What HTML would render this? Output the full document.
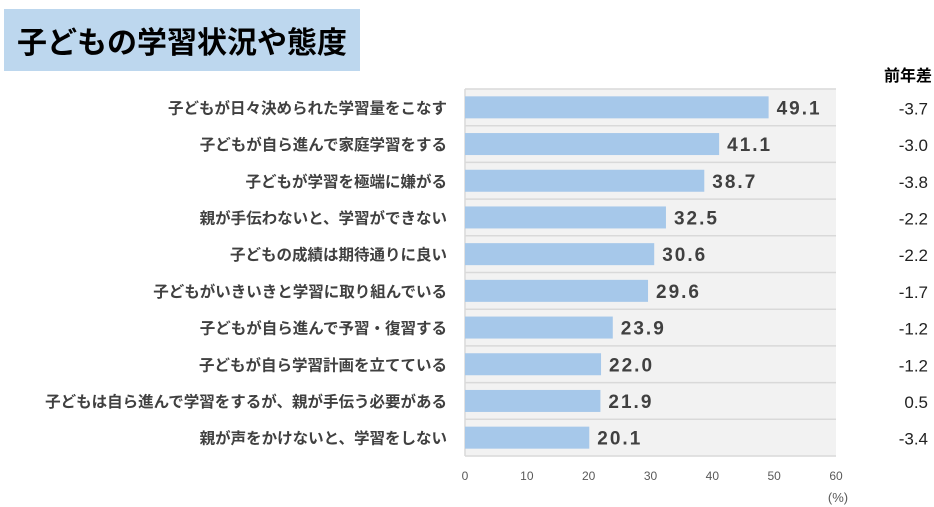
<!DOCTYPE html>
<html><head><meta charset="utf-8"><style>
body{margin:0;background:#fff;width:934px;height:507px;overflow:hidden;font-family:"Liberation Sans","Noto Sans CJK JP",sans-serif}
</style></head><body>
<div style="position:absolute;left:4px;top:9px;width:356px;height:62px;background:#bdd7ee"></div>
<div style="position:absolute;left:17px;top:18px;font-size:30px;font-weight:bold;color:#000;font-family:'Noto Sans CJK JP',sans-serif;line-height:44px">子どもの学習状況や態度</div>
<svg id="c" width="934" height="507" style="position:absolute;left:0;top:0"></svg>
<script>
const categories=["子どもが日々決められた学習量をこなす","子どもが自ら進んで家庭学習をする","子どもが学習を極端に嫌がる","親が手伝わないと、学習ができない","子どもの成績は期待通りに良い","子どもがいきいきと学習に取り組んでいる","子どもが自ら進んで予習・復習する","子どもが自ら学習計画を立てている","子どもは自ら進んで学習をするが、親が手伝う必要がある","親が声をかけないと、学習をしない"];
const values=[49.1,41.1,38.7,32.5,30.6,29.6,23.9,22.0,21.9,20.1];
const diffs=["-3.7","-3.0","-3.8","-2.2","-2.2","-1.7","-1.2","-1.2","0.5","-3.4"];
const ticks=[0,10,20,30,40,50,60];
const NS="http://www.w3.org/2000/svg";
const svg=document.getElementById('c');
const x0=465,x1=836,plotTop=89,plotBot=456,xmax=60;
const rh=(plotBot-plotTop)/categories.length;
const xs=v=>x0+(v/xmax)*(x1-x0);
const ys=i=>plotTop+rh*i;
function mk(t,a,txt){const e=document.createElementNS(NS,t);for(const k in a)e.setAttribute(k,a[k]);if(txt!=null)e.textContent=txt;svg.appendChild(e);return e;}
let bg=mk('rect',{x:x0,y:plotTop,width:x1-x0,height:plotBot-plotTop,fill:'#f2f2f2'});


for(let i=0;i<=categories.length;i++){let g=mk('line',{x1:x0,x2:x1,y1:ys(i),y2:ys(i),stroke:'#d9d9d9','stroke-width':1.5});

}
let ax=mk('line',{x1:x0,x2:x0,y1:plotTop,y2:plotBot,stroke:'#d9d9d9','stroke-width':1.5});


categories.forEach((c,i)=>{
 const cy=ys(i)+rh/2;
 let b=mk('rect',{x:x0,y:cy-11,width:xs(values[i])-x0,height:22,fill:'#a6c8ea'});
 
 
 let l=mk('text',{x:447,y:cy+6,'text-anchor':'end','font-size':15.5,'font-weight':'bold',fill:'#404040'},c);
 
 
 let v=mk('text',{x:xs(values[i])+8,y:cy+7,'font-size':19,'font-weight':'bold',fill:'#404040','letter-spacing':'2'},values[i].toFixed(1));
 
 
 let d=mk('text',{x:928,y:cy+7,'text-anchor':'end','font-size':17,fill:'#222'},diffs[i]);
 
 
});
ticks.forEach(t=>{let e=mk('text',{x:xs(t),y:480,'text-anchor':'middle','font-size':12,fill:'#595959'},String(t));

});
let u=mk('text',{x:838,y:502,'text-anchor':'middle','font-size':13,fill:'#595959'},'(%)');


let h=mk('text',{x:932,y:81,'text-anchor':'end','font-size':16,'font-weight':'bold',fill:'#000'},'前年差');


</script>
</body></html>
